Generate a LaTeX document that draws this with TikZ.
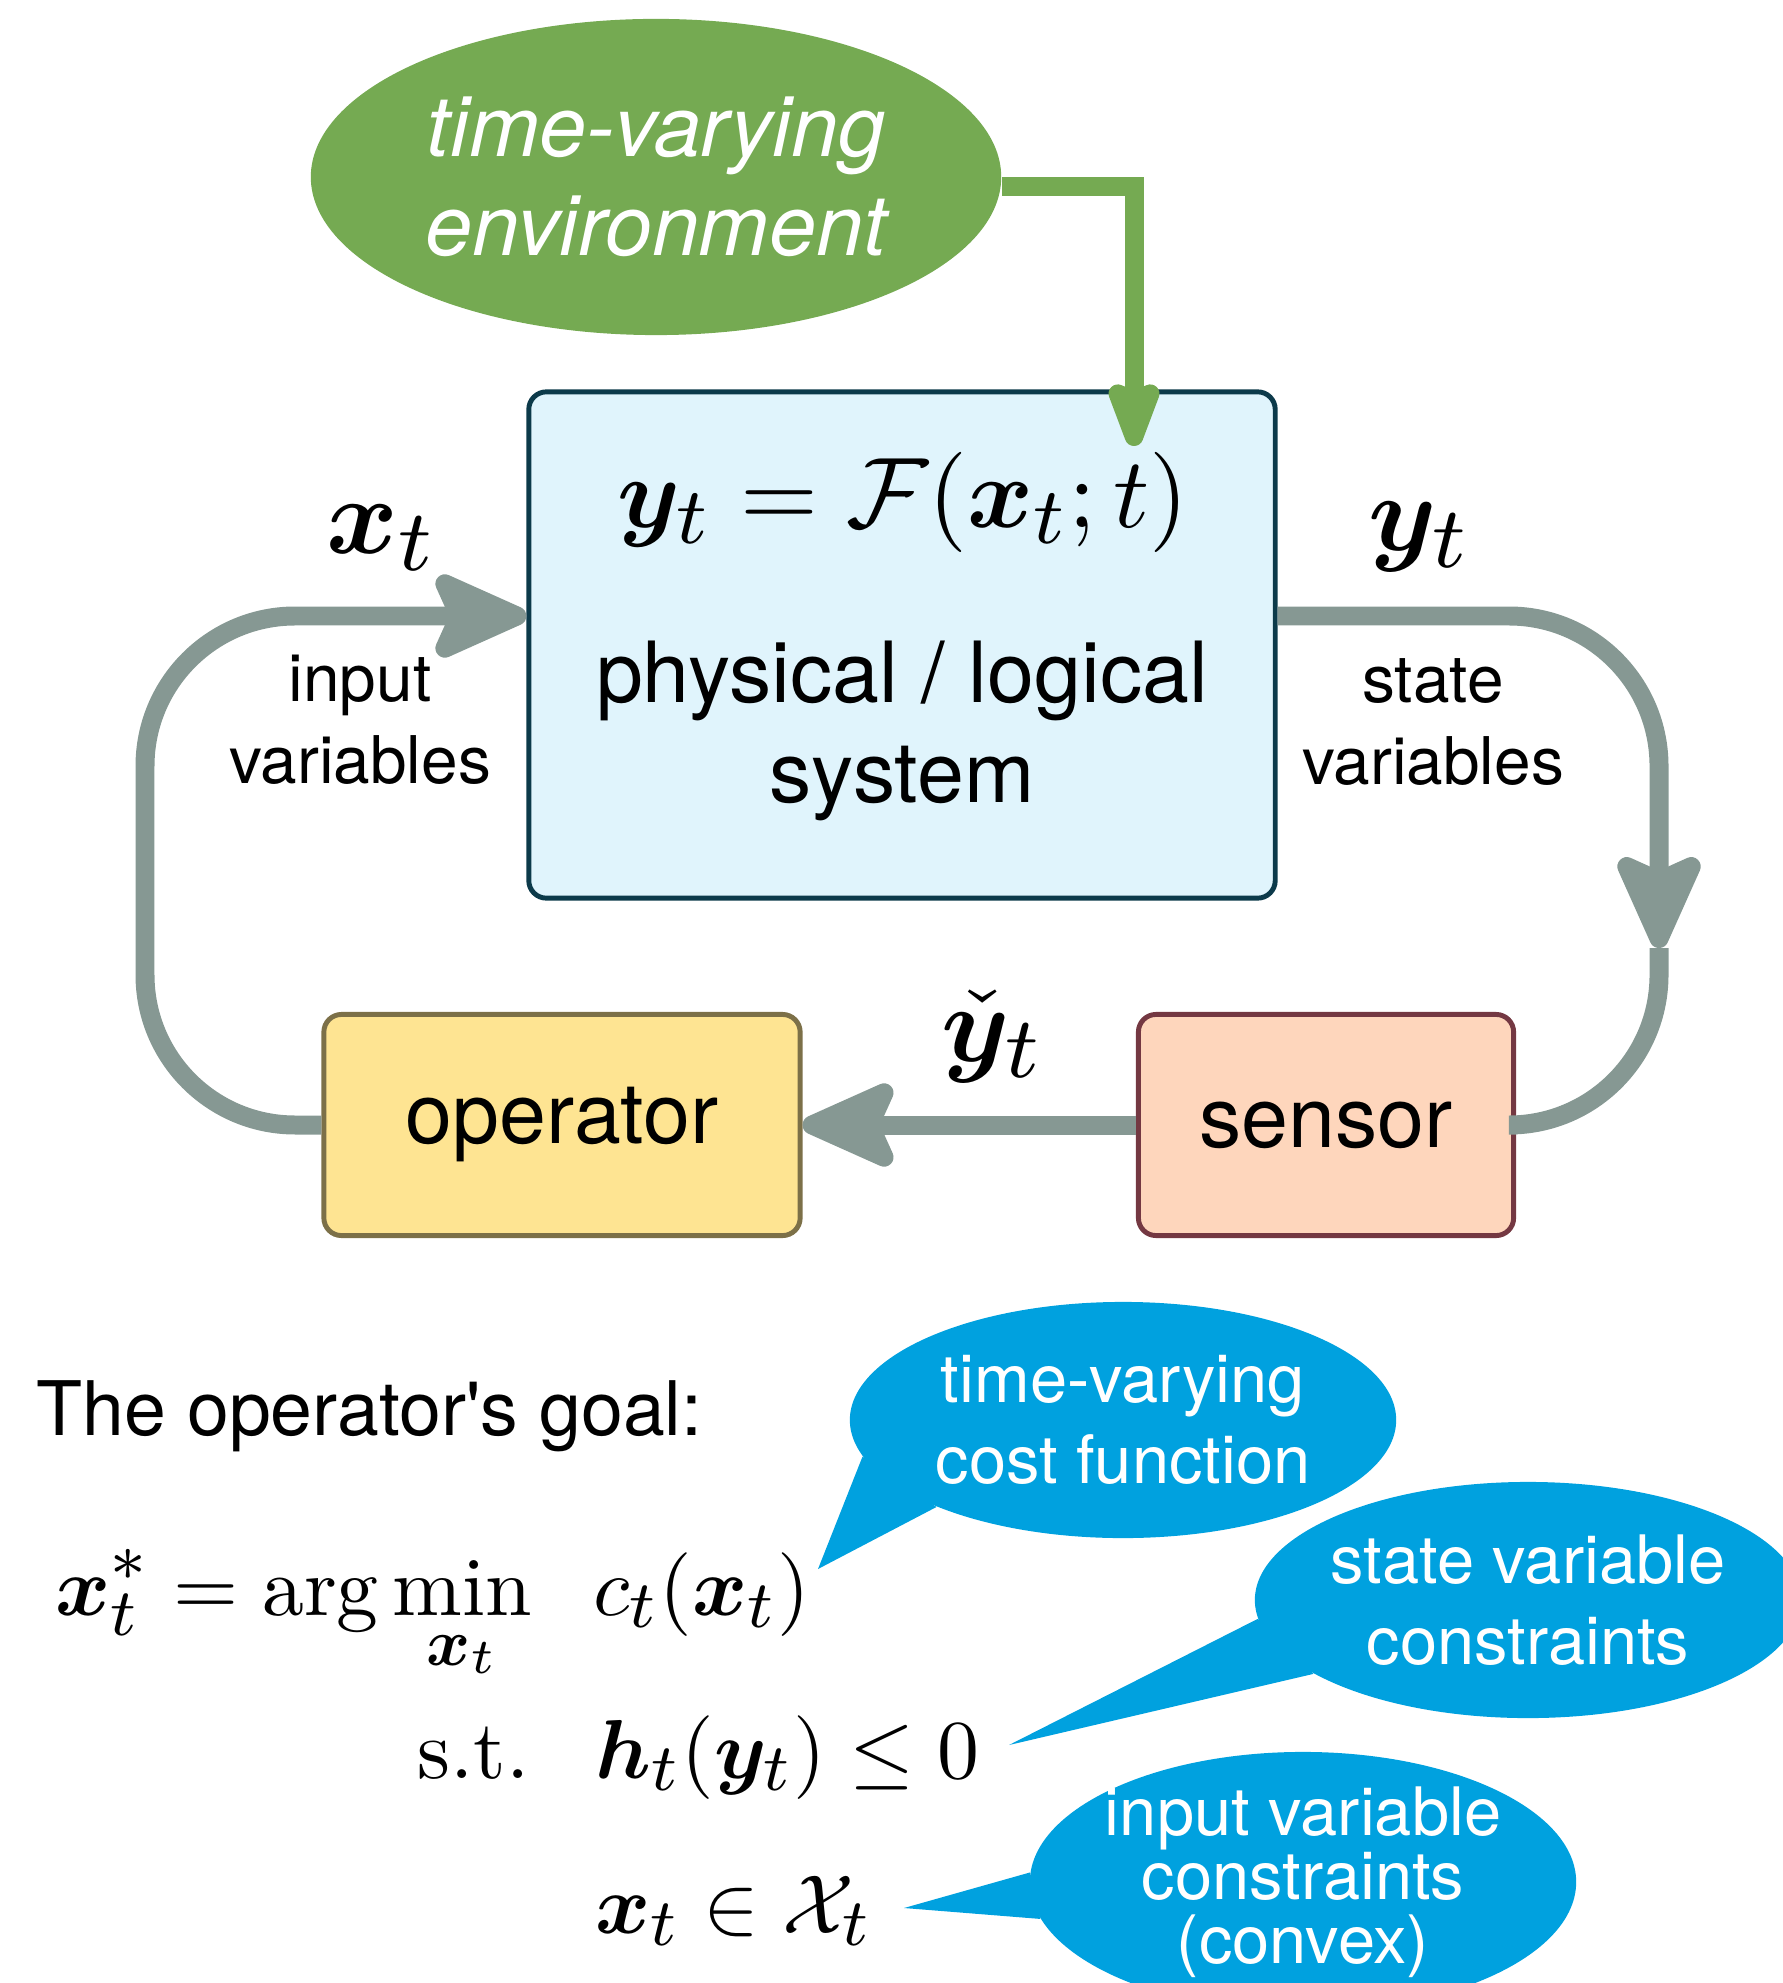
\RequirePackage{fix-cm}
\documentclass[tikz,border=0pt]{standalone}
\usepackage{amsmath,amssymb}
\usepackage{bm}
\usepackage{xcolor}
\usepackage{fontspec}
\setsansfont{TeX Gyre Heros}
\DeclareMathSizes{10}{10}{8}{6}
\usetikzlibrary{positioning,arrows.meta,shapes.geometric}

\definecolor{envgreen}{RGB}{117,170,82}
\definecolor{loopgray}{RGB}{134,152,147}
\definecolor{sysfill}{RGB}{224,244,252}
\definecolor{sysdraw}{RGB}{12,58,74}
\definecolor{opfill}{RGB}{254,228,146}
\definecolor{opdraw}{RGB}{124,112,72}
\definecolor{senfill}{RGB}{254,214,188}
\definecolor{sendraw}{RGB}{116,56,66}
\definecolor{bubblue}{RGB}{0,161,223}

\begin{document}
\begin{tikzpicture}[x=0.01cm, y=-0.01cm,
    box/.style={draw, rounded corners=5pt, line width=1.4pt, inner sep=0pt,
      font=\sffamily\fontsize{24}{28}\selectfont},
    flow/.style={draw=loopgray, line width=5.4pt},
    head/.style={-{Stealth[length=32pt, width=28pt, inset=6pt, round]}},
    lab/.style={font=\sffamily\fontsize{18.7}{23.3}\selectfont, align=center, inner sep=0pt},
    bigmath/.style={inner sep=0pt, anchor=base},
    goalmath/.style={inner sep=0pt},
    bubble/.style={ellipse, fill=bubblue, text=white,
      minimum width=5.46cm, minimum height=2.36cm, inner xsep=-2pt, inner ysep=-4pt,
      align=center, font=\sffamily\fontsize{19}{23}\selectfont}]
  \useasboundingbox (0,0) rectangle (1783,1983);

  % environment and system
  \node[ellipse, fill=envgreen, minimum width=6.9cm, minimum height=3.16cm, inner sep=0pt,
    align=center, text=white, font=\sffamily\itshape\fontsize{24}{28}\selectfont]
    (env) at (656,177) {time-varying\\environment};
  \node[box, fill=sysfill, draw=sysdraw, minimum width=7.46cm, minimum height=5.06cm] (sys) at (902,645) {};
  \node[bigmath] (law) at (903,528) {\scalebox{2.85}{$\bm y_t = \mathcal{F}(\bm x_t; t)$}};
  \node[inner sep=0pt, align=center, font=\sffamily\fontsize{24}{28.5}\selectfont] (phys) at (902,731) {physical / logical\\system};

  \node[box, fill=opfill, draw=opdraw, minimum width=4.76cm, minimum height=2.21cm] (op) at (562,1125) {operator};
  \node[box, fill=senfill, draw=sendraw, minimum width=3.75cm, minimum height=2.21cm] (sen) at (1326,1125) {sensor};

  \node[bigmath] (xlab) at (382,554) {\scalebox{3.1}{$\bm x_t$}};
  \node[bigmath] (ylab) at (1420,551) {\scalebox{3.1}{$\bm y_t$}};
  \node[bigmath] (ychk) at (993,1061) {\scalebox{3.1}{$\check{\bm y}_t$}};
  \node[lab] (inlab) at (360,720) {input\\variables};
  \node[lab] (stlab) at (1433,722) {state\\variables};

  % feedback loop
  \coordinate (ltop) at (145,616);
  \coordinate (rtop) at (1659,616);
  \coordinate (rmid) at (1659,948);
  \coordinate (envin) at (1134,446);
  \draw[flow, head, rounded corners=1.5cm] (op.west) -| (ltop) -- (ltop -| sys.west);
  \draw[flow, head, rounded corners=1.5cm] (sys.east |- rtop) -- (rtop) -- (rmid);
  \draw[flow, rounded corners=1.5cm] (rmid) |- (sen.east);
  \draw[flow, head] (sen.west) -- (op.east);
  \draw[draw=envgreen, line width=5.4pt, -{Stealth[length=24pt, width=17pt, inset=3pt, round]}]
    ([yshift=-2.8pt]env.east) -| (envin);

  % the operator's problem
  \node[anchor=base west, inner sep=0pt, font=\sffamily\fontsize{21.4}{26}\selectfont] (goal) at (36,1435) {The operator\textquotesingle s goal:};
  \node[goalmath, anchor=base east] (lhs) at (533,1615) {\scalebox{2.38}{$\displaystyle \bm x_t^* = \arg\min_{\bm x_t}$}};
  \node[goalmath, anchor=base west] (cost) at (593,1615) {\scalebox{2.38}{$c_t(\bm x_t)$}};
  \node[goalmath, anchor=base east] (st) at (530,1778) {\scalebox{2.38}{s.t.}};
  \node[goalmath, anchor=base west] (cons) at (595,1778) {\scalebox{2.38}{$\bm h_t(\bm y_t) \le 0$}};
  \node[goalmath, anchor=base west] (dom) at (595,1933) {\scalebox{2.38}{$\bm x_t \in \mathcal{X}_t$}};

  \coordinate (tipa) at (818,1569);
  \coordinate (tipb) at (1009,1745);
  \coordinate (tipc) at (904,1908);
  \node[bubble] (bubcost) at (1123,1420) {time-varying\\cost function};
  \node[bubble] (bubstate) at (1528,1600) {state variable\\constraints};
  \node[bubble, minimum height=2.6cm, inner ysep=-8pt, font=\sffamily\fontsize{19}{18.2}\selectfont]
    (bubinput) at (1303,1882) {input variable\\constraints\\(convex)};
  \fill[bubblue] (bubcost.188) -- (tipa) -- (bubcost.205) -- cycle;
  \fill[bubblue] (bubstate.184) -- (tipb) -- (bubstate.199) -- cycle;
  \fill[bubblue] (bubinput.178) -- (tipc) -- (bubinput.188) -- cycle;
\end{tikzpicture}
\end{document}
